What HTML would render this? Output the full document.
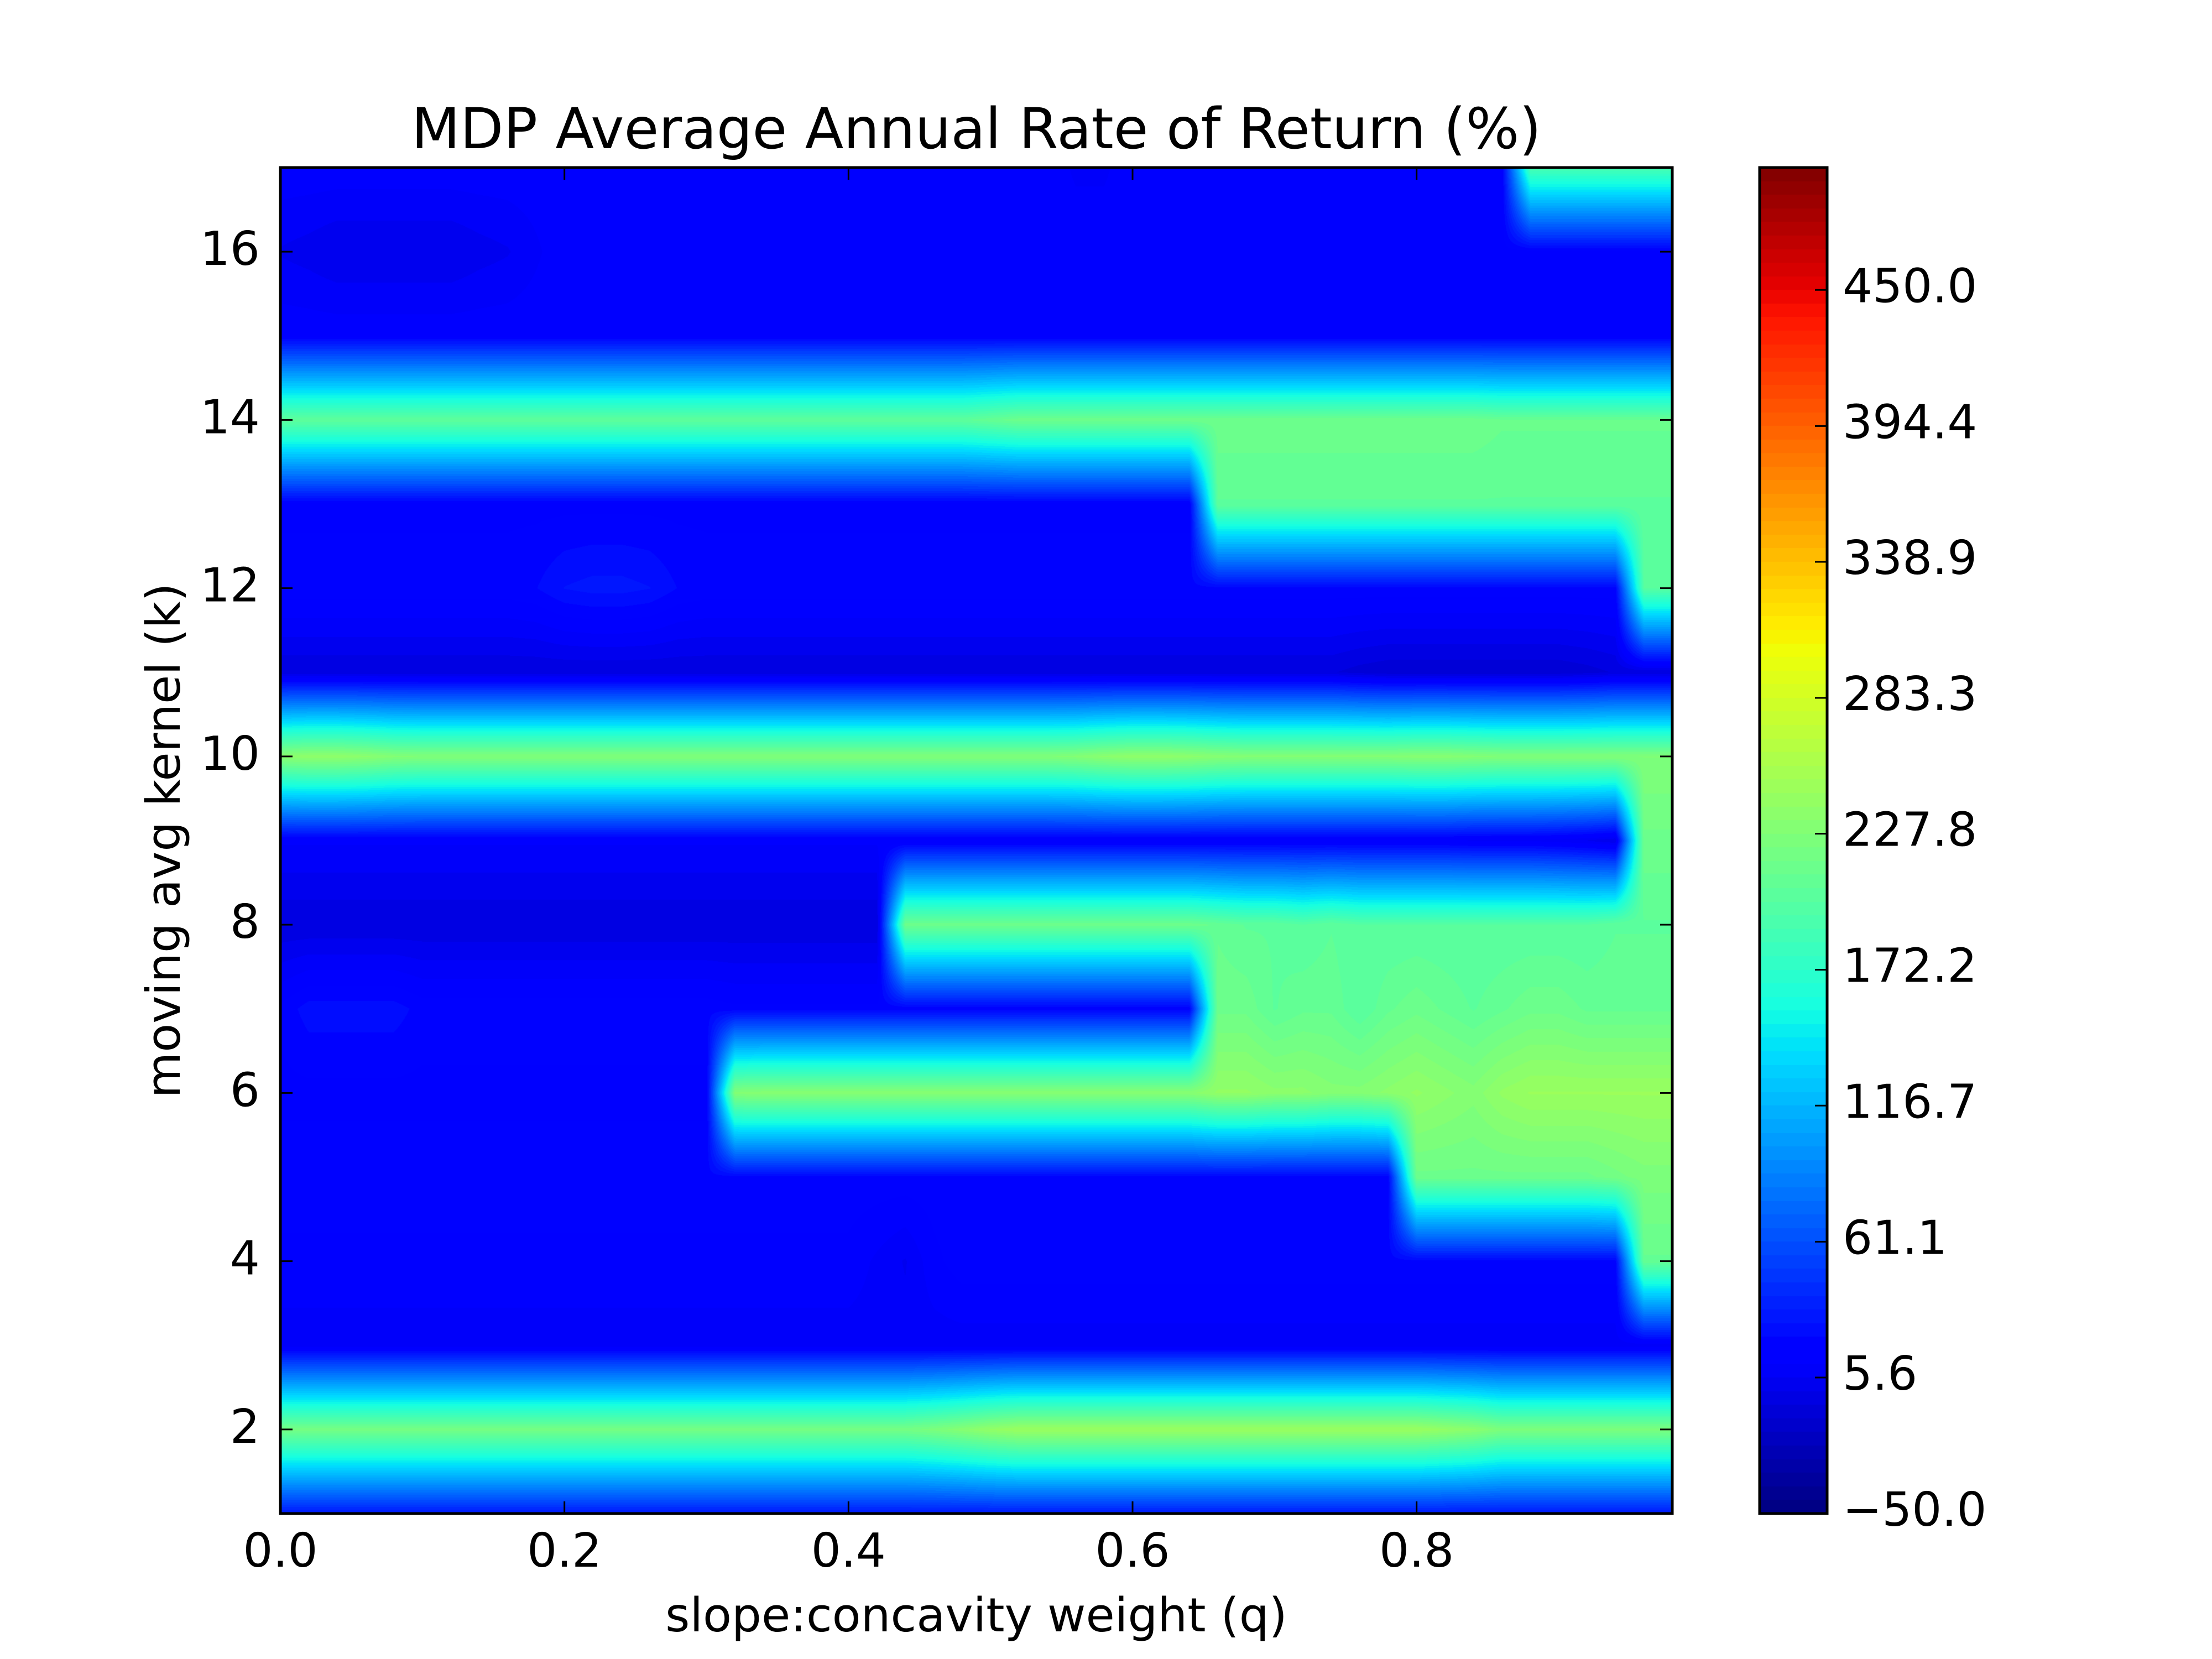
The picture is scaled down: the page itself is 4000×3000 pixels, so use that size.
<!DOCTYPE html>
<html><head><meta charset="utf-8">
<style>
html,body{margin:0;padding:0;background:#fff;}
#root{position:relative;width:4000px;height:3000px;overflow:hidden;background:#fff;font-family:"DejaVu Sans","Liberation Sans",sans-serif;}
canvas{position:absolute;}
svg{position:absolute;left:0;top:0;font-family:"DejaVu Sans","Liberation Sans",sans-serif;}
</style></head>
<body>
<div id="root">
<canvas id="heat" style="left:507px;top:303px" width="2517" height="2434"></canvas>
<canvas id="cbar" style="left:3182px;top:303px" width="122" height="2434"></canvas>
<svg id="axes" width="4000" height="3000"></svg>
</div>
<script>
// q values 0.00..0.98 (step 0.02), k values 1..17
const qValues=[0,0.02,0.04,0.06,0.08,0.1,0.12,0.14,0.16,0.18,0.2,0.22,0.24,0.26,0.28,0.3,0.32,0.34,0.36,0.38,0.4,0.42,0.44,0.46,0.48,0.5,0.52,0.54,0.56,0.58,0.6,0.62,0.64,0.66,0.68,0.7,0.72,0.74,0.76,0.78,0.8,0.82,0.84,0.86,0.88,0.9,0.92,0.94,0.96,0.98];
const kValues=[1,2,3,4,5,6,7,8,9,10,11,12,13,14,15,16,17];
const row1=[30,30,30,30,30,30,30,30,30,30,30,30,30,30,30,30,30,30,30,30,30,30,30,30,30,30,30,30,30,30,30,30,30,30,30,30,30,30,30,30,30,30,30,30,30,30,30,30,30,30];
const row2=[220,220,220,220,220,220,220,220,220,220,220,220,220,220,220,220,220,220,220,220,220,220,220,225,232,240,245,245,245,245,245,245,245,245,245,245,245,245,245,245,245,240,235,225,225,225,225,225,225,225];
const row3=[8,8,8,8,8,8,8,8,8,8,8,8,8,8,8,8,8,8,8,8,8,8,8,8,8,8,8,8,8,8,8,8,8,8,8,8,8,8,8,8,8,8,8,8,8,8,8,8,8,8];
const row4=[15,15,15,15,15,15,15,15,15,15,15,15,15,15,15,15,15,15,15,15,15,10,5,15,20,20,20,20,20,20,20,20,20,20,20,20,20,20,20,20,20,20,20,20,20,20,20,20,210,210];
const row5=[20,20,20,20,20,20,20,20,20,20,20,20,20,20,20,20,20,20,20,20,20,20,20,20,20,20,20,20,20,20,20,20,20,20,20,20,20,20,20,20,215,215,215,215,215,215,215,220,225,225];
const row6=[15,15,15,15,15,15,15,15,15,15,15,15,15,15,15,15,230,232,232,232,232,232,232,232,232,232,232,232,232,232,232,232,232,240,240,235,235,230,230,235,240,235,230,240,245,245,245,245,245,245];
const row7=[18,25,25,25,25,20,20,20,20,20,20,20,20,20,20,20,18,18,18,18,18,18,18,18,18,18,18,18,18,18,18,18,18,215,215,205,210,210,200,210,215,210,205,210,215,215,210,210,210,210];
const row8=[-5,-5,-5,-5,-5,-5,-5,-5,-5,-5,-5,-5,-5,-5,-5,-5,-5,-5,-5,-5,-5,-5,215,215,215,215,215,215,215,215,215,215,215,210,205,205,200,205,200,200,200,200,200,200,200,200,200,205,205,205];
const row9=[12,12,12,12,12,12,12,12,12,12,12,12,12,12,12,12,12,12,12,12,12,12,12,12,12,12,12,12,12,12,12,12,12,12,12,12,12,12,12,12,12,12,10,10,10,8,5,0,215,215];
const row10=[235,238,238,235,230,228,228,228,228,228,228,228,228,228,228,228,228,228,228,228,228,228,228,228,228,228,228,228,230,235,238,238,236,232,230,230,230,230,230,230,232,232,230,228,228,228,228,228,228,228];
const row11=[-5,-5,-5,-5,-5,-5,-5,-5,-5,-5,-5,-5,-5,-5,-5,-5,-5,-5,-5,-5,-5,-5,-5,-5,-5,-5,-5,-5,-5,-5,-5,-5,-5,-5,-5,-5,-5,-5,-8,-10,-10,-10,-10,-10,-10,-10,-8,-5,-5,-5];
const row12=[20,20,20,20,20,20,20,20,20,22,28,30,30,28,22,20,20,20,20,20,20,20,20,20,20,20,20,20,20,20,20,20,20,20,20,20,20,20,20,20,20,20,20,20,20,20,20,20,200,200];
const row13=[15,15,15,15,15,15,15,15,15,15,15,15,15,15,15,15,15,15,15,15,15,15,15,15,15,15,15,15,15,15,15,15,15,205,205,205,205,205,205,205,205,205,205,205,205,205,205,205,205,205];
const row14=[205,205,205,205,205,205,205,205,205,205,205,205,205,205,205,205,205,205,205,205,205,205,205,205,205,210,215,215,215,215,215,215,215,215,215,215,215,215,215,215,215,215,215,212,212,212,212,212,212,212];
const row15=[15,15,15,15,15,15,15,15,15,15,15,15,15,15,15,15,15,15,15,15,15,15,15,15,15,15,15,15,15,15,15,15,15,15,15,15,15,15,15,15,15,15,15,15,15,15,15,15,15,15];
const row16=[5,3,0,0,0,0,0,3,5,10,15,15,15,15,15,15,15,15,15,15,15,15,15,15,15,15,15,15,15,15,15,15,15,15,15,15,15,15,15,15,15,15,15,15,15,15,15,15,15,15];
const row17=[15,15,15,15,15,15,15,15,15,15,15,15,15,15,15,15,15,15,15,15,15,15,15,15,15,15,15,15,10,10,15,15,15,15,15,15,15,15,15,15,15,15,15,15,190,190,190,190,190,190];
const grid=[row1,row2,row3,row4,row5,row6,row7,row8,row9,row10,row11,row12,row13,row14,row15,row16,row17];
const xTicks=[0.0,0.2,0.4,0.6,0.8];
const xTickLabels=["0.0","0.2","0.4","0.6","0.8"];
const yTicks=[2,4,6,8,10,12,14,16];
const yTickLabels=["2","4","6","8","10","12","14","16"];
const cbTicks=[-50,5.6,61.1,116.7,172.2,227.8,283.3,338.9,394.4,450.0];
const cbTickLabels=["\u221250.0","5.6","61.1","116.7","172.2","227.8","283.3","338.9","394.4","450.0"];
const vmin=-50, vmax=500, nLevels=99;

const PX=507, PY=303, PW=2517, PH=2434;
const qMin=0, qMax=0.98, kMin=1, kMax=17;
const xs=q=>PX+(q-qMin)/(qMax-qMin)*PW;
const ys=k=>PY+PH-(k-kMin)/(kMax-kMin)*PH;
const CX=3182, CW=122;
const cs=v=>PY+PH-(v-vmin)/(vmax-vmin)*PH;

function interp(pts,t){for(let i=1;i<pts.length;i++){if(t<=pts[i][0]){const a=pts[i-1],b=pts[i];return a[1]+(b[1]-a[1])*(t-a[0])/(b[0]-a[0]);}}return pts[pts.length-1][1];}
const R=[[0,0],[0.35,0],[0.66,1],[0.89,1],[1,0.5]];
const G=[[0,0],[0.125,0],[0.375,1],[0.64,1],[0.91,0],[1,0]];
const B=[[0,0.5],[0.11,1],[0.34,1],[0.65,0],[1,0]];
function jet(t){t=Math.max(0,Math.min(1,t));return [interp(R,t)*255,interp(G,t)*255,interp(B,t)*255];}
function levelColor(v){let t=(v-vmin)/(vmax-vmin);let i=Math.floor(t*nLevels);i=Math.max(0,Math.min(nLevels-1,i));return jet((i+0.5)/nLevels);}

(function(){
const c=document.getElementById('heat'),ctx=c.getContext('2d');
const img=ctx.createImageData(PW,PH),d=img.data;
const nq=qValues.length,nk=kValues.length;
for(let py=0;py<PH;py++){
  const k=kMax-(py+0.5)/PH*(kMax-kMin);
  let fk=(k-kMin)/(kMax-kMin)*(nk-1);let j=Math.min(nk-2,Math.floor(fk));let ty=fk-j;
  const r0=grid[j],r1=grid[j+1];
  for(let px=0;px<PW;px++){
    const q=qMin+(px+0.5)/PW*(qMax-qMin);
    let fq=(q-qMin)/(qMax-qMin)*(nq-1);let i=Math.min(nq-2,Math.floor(fq));let tx=fq-i;
    const v=(r0[i]*(1-tx)+r0[i+1]*tx)*(1-ty)+(r1[i]*(1-tx)+r1[i+1]*tx)*ty;
    const col=levelColor(v);const o=(py*PW+px)*4;
    d[o]=col[0];d[o+1]=col[1];d[o+2]=col[2];d[o+3]=255;
  }
}
ctx.putImageData(img,0,0);
})();
(function(){
const c=document.getElementById('cbar'),ctx=c.getContext('2d');
for(let py=0;py<PH;py++){const v=vmax-(py+0.5)/PH*(vmax-vmin);const col=levelColor(v);ctx.fillStyle='rgb('+col.map(Math.round).join(',')+')';ctx.fillRect(0,py,CW,1);}
})();
(function(){
const svg=document.getElementById('axes'),NS='http://www.w3.org/2000/svg';
function el(tag,attrs,parent){const e=document.createElementNS(NS,tag);for(const k in attrs)e.setAttribute(k,attrs[k]);(parent||svg).appendChild(e);return e;}
const fr=el('rect',{x:PX,y:PY,width:PW,height:PH,fill:'none',stroke:'#000','stroke-width':5});


const cf=el('rect',{x:CX,y:PY,width:CW,height:PH,fill:'none',stroke:'#000','stroke-width':5});


const TL=22;
xTicks.forEach((q,i)=>{const x=xs(q);
  el('line',{x1:x,y1:PY+PH,x2:x,y2:PY+PH-TL,stroke:'#000','stroke-width':3});
  el('line',{x1:x,y1:PY,x2:x,y2:PY+TL,stroke:'#000','stroke-width':3});
  const t=el('text',{x:x,y:2833,'text-anchor':'middle','font-size':85,fill:'#000'});t.textContent=xTickLabels[i];
  
  
});
yTicks.forEach((k,i)=>{const y=ys(k);
  el('line',{x1:PX,y1:y,x2:PX+TL,y2:y,stroke:'#000','stroke-width':3});
  el('line',{x1:PX+PW,y1:y,x2:PX+PW-TL,y2:y,stroke:'#000','stroke-width':3});
  const t=el('text',{x:470,y:y+24,'text-anchor':'end','font-size':85,fill:'#000'});t.textContent=yTickLabels[i];
  
  
});
cbTicks.forEach((v,i)=>{const y=cs(v);
  el('line',{x1:CX+CW,y1:y,x2:CX+CW-TL,y2:y,stroke:'#000','stroke-width':3});
  const t=el('text',{x:3332,y:y+22,'text-anchor':'start','font-size':85,fill:'#000'});t.textContent=cbTickLabels[i];
  
  
});
const ti=el('text',{x:PX+PW/2,y:268,'text-anchor':'middle','font-size':102,fill:'#000'});ti.textContent='MDP Average Annual Rate of Return (%)';


const xl=el('text',{x:PX+PW/2,y:2950,'text-anchor':'middle','font-size':85,fill:'#000'});xl.textContent='slope:concavity weight (q)';


const yl=el('text',{x:0,y:0,'text-anchor':'middle','font-size':85,fill:'#000',transform:'translate(325,'+(PY+PH/2)+') rotate(-90)'});yl.textContent='moving avg kernel (k)';


})();
</script>
</body></html>
